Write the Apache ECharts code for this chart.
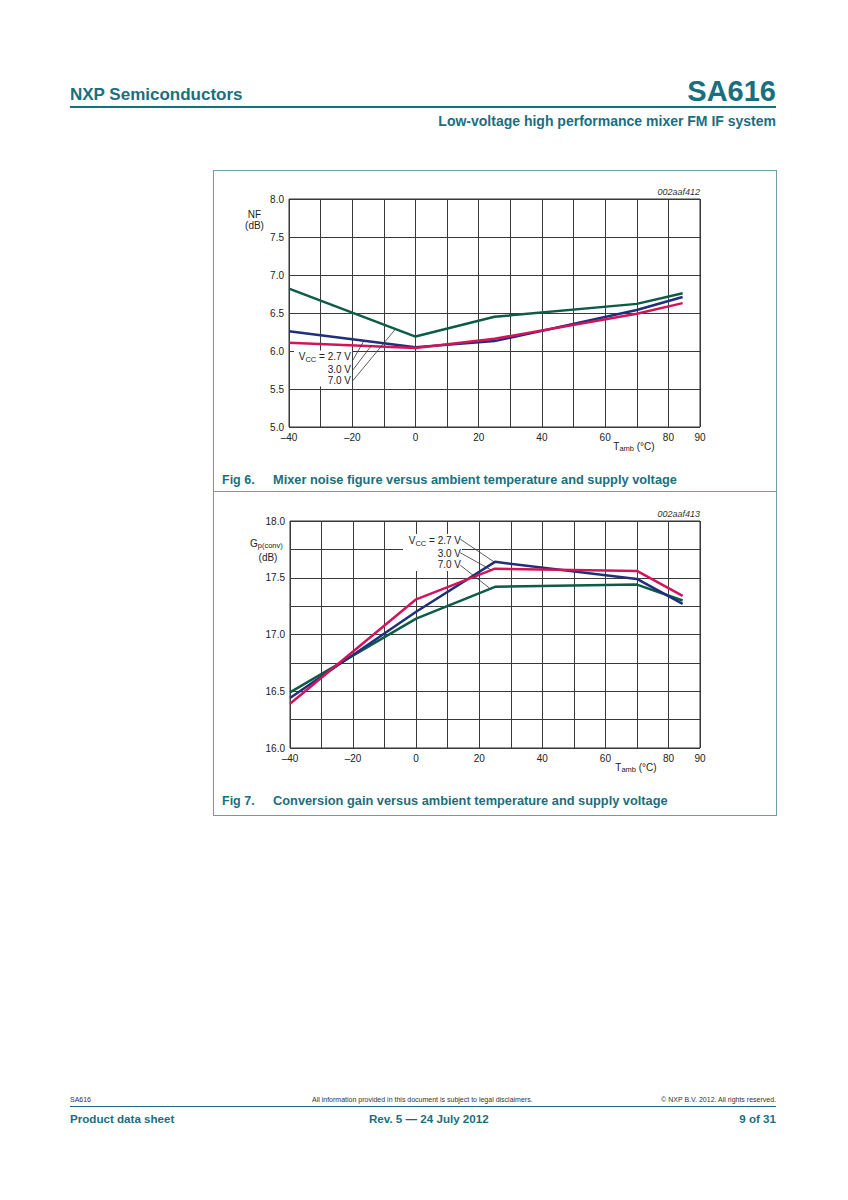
<!DOCTYPE html>
<html><head><meta charset="utf-8">
<script src="https://cdn.jsdelivr.net/npm/echarts@6/dist/echarts.min.js"></script>
<style>
body{margin:0;background:#fff;}
#page{position:relative;width:848px;height:1200px;font-family:'Liberation Sans',Arial,sans-serif;overflow:hidden;}
.t{position:absolute;white-space:nowrap;color:#1a6f7f;}
.b{font-weight:bold;}
.hl{position:absolute;background:#1a6f7f;}
.box{position:absolute;border:1px solid #6f9ea8;box-sizing:border-box;}
</style></head><body>
<div id="page">
  <div class="t b" style="left:70px;top:85px;font-size:17px;line-height:20px;">NXP Semiconductors</div>
  <div class="t b" style="right:72px;top:74px;font-size:29px;line-height:34px;">SA616</div>
  <div class="hl" style="left:70px;top:106px;width:706px;height:1.5px;"></div>
  <div class="t b" style="right:72px;top:113px;font-size:14px;line-height:16px;">Low-voltage high performance mixer FM IF system</div>

  <div class="box" style="left:213px;top:170px;width:564px;height:322px;"></div>
  <div class="box" style="left:213px;top:491px;width:564px;height:325px;"></div>
  <div class="t b" style="left:222px;top:472px;font-size:12.5px;line-height:16px;">Fig 6.</div>
  <div class="t b" style="left:273px;top:472px;font-size:12.8px;line-height:16px;">Mixer noise figure versus ambient temperature and supply voltage</div>
  <div class="t b" style="left:222px;top:793px;font-size:12.5px;line-height:16px;">Fig 7.</div>
  <div class="t b" style="left:273px;top:793px;font-size:12.8px;line-height:16px;">Conversion gain versus ambient temperature and supply voltage</div>

  <div class="t" style="left:70px;top:1096px;font-size:7px;line-height:8px;color:#333;">SA616</div>
  <div class="t" style="left:312px;top:1096px;font-size:7px;line-height:8px;color:#333;">All information provided in this document is subject to legal disclaimers.</div>
  <div class="t" style="right:72px;top:1096px;font-size:7px;line-height:8px;color:#333;">© NXP B.V. 2012. All rights reserved.</div>
  <div class="hl" style="left:70px;top:1106px;width:706px;height:1px;"></div>
  <div class="t b" style="left:70px;top:1111px;font-size:11.6px;line-height:15px;">Product data sheet</div>
  <div class="t b" style="left:369px;top:1111px;font-size:11.6px;line-height:15px;">Rev. 5 — 24 July 2012</div>
  <div class="t b" style="right:72px;top:1111px;font-size:11.6px;line-height:15px;">9 of 31</div>

  <div id="chart" style="position:absolute;left:0;top:0;width:848px;height:1200px;"></div>
</div>
<script>
// ---- data ----
const xTickValues = [-40, -20, 0, 20, 40, 60, 80, 90];
const xTickLabels = ['–40', '–20', '0', '20', '40', '60', '80', '90'];
const nfTickLabels = ['5.0', '5.5', '6.0', '6.5', '7.0', '7.5', '8.0'];
const gainTickLabels = ['16.0', '16.5', '17.0', '17.5', '18.0'];

const tempPoints = [-40, 0, 25, 70, 84.5];
const nf27 = [6.26, 6.05, 6.13, 6.54, 6.71];
const nf30 = [6.11, 6.04, 6.16, 6.49, 6.63];
const nf70 = [6.82, 6.19, 6.45, 6.62, 6.76];

const gain27 = [16.44, 17.20, 17.64, 17.49, 17.27];
const gain30 = [16.39, 17.31, 17.58, 17.56, 17.34];
const gain70 = [16.49, 17.14, 17.42, 17.44, 17.30];

// leader-line annotations (data coordinates)
const nfLeaders = [
  [[-19.8, 5.88], [-16.5, 6.12]],
  [[-19.8, 5.75], [-13.8, 6.08]],
  [[-19.8, 5.61], [-6.5, 6.28]]
];
const gainLeaders = [
  [[14.0, 17.84], [24.7, 17.64]],
  [[14.0, 17.72], [23.7, 17.57]],
  [[14.0, 17.61], [23.2, 17.41]]
];

const C_RED = '#d3145a', C_BLUE = '#1f2f7c', C_GREEN = '#0d5c45';
const FONT = "'Liberation Sans', Arial, sans-serif";

function pairs(xs, ys) { return xs.map((x, i) => [x, ys[i]]); }

function xAxisCfg(gi) {
  return {
    type: 'value', gridIndex: gi, min: -40, max: 90, interval: 10,
    axisLine: { show: false }, axisTick: { show: false },
    splitLine: { show: true, lineStyle: { color: '#3a3a3a', width: 1 } },
    axisLabel: {
      margin: 5, color: '#222', fontSize: 10, fontFamily: FONT,
      formatter: v => { const i = xTickValues.indexOf(v); return i >= 0 ? xTickLabels[i] : ''; }
    }
  };
}
function yAxisCfg(gi, min, max, interval, labels) {
  return {
    type: 'value', gridIndex: gi, min: min, max: max, interval: interval,
    axisLine: { show: false }, axisTick: { show: false },
    splitLine: { show: true, lineStyle: { color: '#3a3a3a', width: 1 } },
    axisLabel: {
      margin: 5, color: '#222', fontSize: 10, fontFamily: FONT,
      formatter: v => {
        const k = (v - min) / 0.5;
        if (Math.abs(k - Math.round(k)) > 1e-6) return '';
        return labels[Math.round(k)] || '';
      }
    }
  };
}
function lineSeries(name, gi, data, color, extra) {
  return Object.assign({
    name: name, type: 'line', xAxisIndex: gi, yAxisIndex: gi,
    data: data, symbol: 'none', smooth: false,
    lineStyle: { color: color, width: 2.5 }, itemStyle: { color: color },
    emphasis: { disabled: true }, silent: true
  }, extra || {});
}
function leaderMark(list) {
  return {
    silent: true, symbol: ['none', 'none'], label: { show: false },
    emphasis: { disabled: true },
    lineStyle: { color: '#333', width: 0.8, type: 'solid' },
    data: list.map(seg => [{ coord: seg[0] }, { coord: seg[1] }])
  };
}

const sub = {
  m: { fontSize: 10, fontFamily: FONT, fill: '#222', verticalAlign: 'top', lineHeight: 12 },
  s: { fontSize: 7.5, fontFamily: FONT, fill: '#222', verticalAlign: 'top', lineHeight: 8, padding: [3.5, 0, 0, 0] }
};
function txt(x, y, text, align, extra) {
  return { type: 'text', x: x, y: y, z: 10,
    style: Object.assign({ text: text, align: align || 'center', verticalAlign: 'middle',
      fontSize: 10, fontFamily: FONT, fill: '#222', rich: sub }, extra || {}) };
}

const chart = echarts.init(document.getElementById('chart'), null, { renderer: 'svg' });
chart.setOption({
  animation: false,
  grid: [
    { left: 289, top: 199, width: 411, height: 228, show: true, borderColor: '#333', borderWidth: 1, backgroundColor: 'transparent' },
    { left: 290, top: 521, width: 410, height: 227, show: true, borderColor: '#333', borderWidth: 1, backgroundColor: 'transparent' }
  ],
  xAxis: [xAxisCfg(0), xAxisCfg(1)],
  yAxis: [yAxisCfg(0, 5, 8, 0.5, nfTickLabels), yAxisCfg(1, 16, 18, 0.25, gainTickLabels)],
  series: [
    lineSeries('VCC = 7.0 V', 0, pairs(tempPoints, nf70), C_GREEN, { markLine: leaderMark(nfLeaders) }),
    lineSeries('VCC = 2.7 V', 0, pairs(tempPoints, nf27), C_BLUE),
    lineSeries('VCC = 3.0 V', 0, pairs(tempPoints, nf30), C_RED),
    lineSeries('VCC = 7.0 V', 1, pairs(tempPoints, gain70), C_GREEN, { markLine: leaderMark(gainLeaders) }),
    lineSeries('VCC = 2.7 V', 1, pairs(tempPoints, gain27), C_BLUE),
    lineSeries('VCC = 3.0 V', 1, pairs(tempPoints, gain30), C_RED)
  ],
  graphic: [
    // chart 1 texts
    txt(254.5, 214, 'NF'),
    txt(254.5, 225.5, '(dB)'),
    txt(700, 192, '002aaf412', 'right', { fontStyle: 'italic', fontSize: 9, fill: '#333' }),
    txt(634, 447, '{m|T}{s|amb}{m| (°C)}'),
    { type: 'rect', z: 1, shape: { x: 294, y: 350.5, width: 58, height: 36 }, style: { fill: '#fff' } },
    txt(351, 357.5, '{m|V}{s|CC}{m| = 2.7 V}', 'right'),
    txt(351, 369, '3.0 V', 'right'),
    txt(351, 380.5, '7.0 V', 'right'),
    // chart 2 texts
    txt(250, 544, '{m|G}{s|p(conv)}', 'left'),
    txt(268, 557, '(dB)'),
    txt(700, 514, '002aaf413', 'right', { fontStyle: 'italic', fontSize: 9, fill: '#333' }),
    txt(636, 768, '{m|T}{s|amb}{m| (°C)}'),
    { type: 'rect', z: 1, shape: { x: 403, y: 534, width: 59, height: 37 }, style: { fill: '#fff' } },
    txt(461, 541.5, '{m|V}{s|CC}{m| = 2.7 V}', 'right'),
    txt(461, 553, '3.0 V', 'right'),
    txt(461, 564.5, '7.0 V', 'right')
  ]
});
</script>
</body></html>
